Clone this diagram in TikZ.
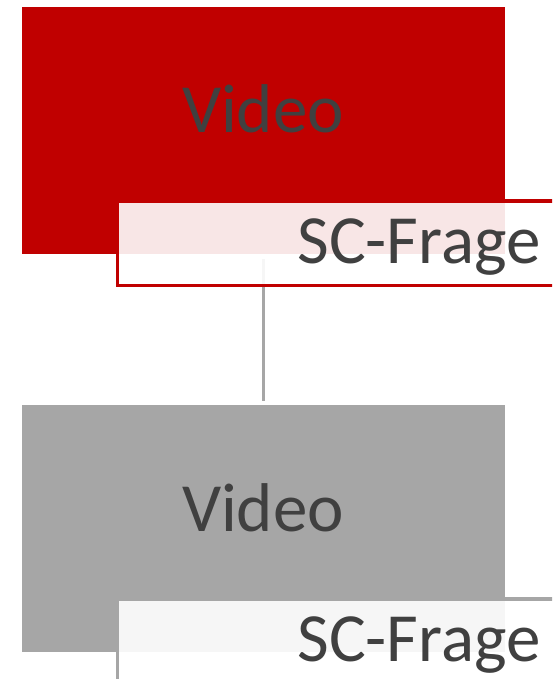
\documentclass[tikz,border=0pt]{standalone}
\usepackage{fontspec}
\setmainfont{Carlito}
\definecolor{boxred}{HTML}{C00000}
\definecolor{boxgray}{HTML}{A6A6A6}
\definecolor{txt}{HTML}{404040}
\begin{document}
\begin{tikzpicture}[x=1pt,y=-1pt,
  mainbox/.style={rectangle,inner sep=0pt,outer sep=0pt,draw=none,minimum width=483pt,minimum height=247pt},
  labelbox/.style={rectangle,inner sep=0pt,outer sep=0pt,line width=3.5pt,fill=white,fill opacity=0.9,draw opacity=1,minimum width=482.7pt,minimum height=84.6pt},
  bigtext/.style={inner sep=0pt,outer sep=0pt,text=txt,font=\fontsize{69}{80}\selectfont,anchor=base},
  conn/.style={draw=boxgray,line width=3pt,shorten <=5pt,shorten >=4pt}
]
\useasboundingbox (0,0) rectangle (552,679);
\clip (0,0) rectangle (552,679);
% first pair
\node[mainbox,fill=boxred] (v1) at (263.5,130.5) {};
\node[mainbox,fill=boxgray] (v2) at (263.5,528) {};
\draw[conn] (v1.south) -- (v2.north);
\node[labelbox,draw=boxred] (l1) at (358.65,243.3) {};
\node[labelbox,draw=boxgray] (l2) at (358.65,641.3) {};
\node[bigtext] (t1) at (263,133) {Video};
\node[bigtext] (s1) at (419,263) {SC-Frage};
\node[bigtext] (t2) at (263,531) {Video};
\node[bigtext] (s2) at (419,661) {SC-Frage};
\end{tikzpicture}
\end{document}
